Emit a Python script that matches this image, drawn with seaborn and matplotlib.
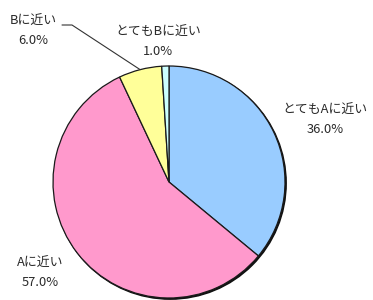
import numpy as np
import matplotlib
matplotlib.use("Agg")
import matplotlib.pyplot as plt
import seaborn as sns

# data
categories = ["とてもAに近い", "Aに近い", "Bに近い", "とてもBに近い"]
shares = [36.0, 57.0, 6.0, 1.0]
slice_colors = ["#99CCFF", "#FF99CC", "#FFFF99", "#CCFFFF"]

sns.set_theme(style="white")
plt.rcParams["font.family"] = ["Noto Sans CJK JP", "DejaVu Sans"]

W, H = 373, 300
fig = plt.figure(figsize=(W / 100, H / 100), dpi=100)
fig.patch.set_facecolor("white")

# pie placed in pixels: center (169,182), radius 116
cx, cy, r = 169, 182, 116
ax = fig.add_axes([(cx - r) / W, (H - cy - r) / H, 2 * r / W, 2 * r / H])

# faint dark shadow on the lower right rim
shadow = plt.Circle((1.2 / r, -1.2 / r), 1.0, color="#111111", zorder=0)
ax.add_patch(shadow)
ax.pie(shares, colors=slice_colors, startangle=90, counterclock=False,
       radius=1.0, wedgeprops=dict(edgecolor="#1a1a1a", linewidth=0.9))
ax.set_xlim(-1.02, 1.02)
ax.set_ylim(-1.02, 1.02)
ax.set_aspect("equal")
ax.set_position([(cx - r * 1.02) / W, (H - cy - r * 1.02) / H,
                 2 * r * 1.02 / W, 2 * r * 1.02 / H])

# label centers (pixels, top-left origin) for each category
label_xy = [(325, 120), (40, 273), (33, 31), (158, 42)]
for name, val, (lx, ly) in zip(categories, shares, label_xy):
    fig.text(lx / W, 1 - ly / H, f"{name}\n{val:.1f}%", ha="center", va="center",
             fontsize=9.3, color="#2a2a2a", linespacing=1.6)

# leader line for Bに近い, pointing at the middle of its wedge
cum = np.cumsum([0] + shares)
mid = (cum[2] + cum[3]) / 2 / 100 * 2 * np.pi   # clockwise from top
disp = ax.transData.transform((np.sin(mid), np.cos(mid)))
fx, fy = disp[0] / W, disp[1] / H
line = plt.Line2D([62 / W, 72 / W, fx], [1 - 25 / H, 1 - 25 / H, fy],
                  transform=fig.transFigure, color="#333333", linewidth=0.8)
fig.add_artist(line)

fig.savefig("out.png", dpi=100, facecolor="white")
